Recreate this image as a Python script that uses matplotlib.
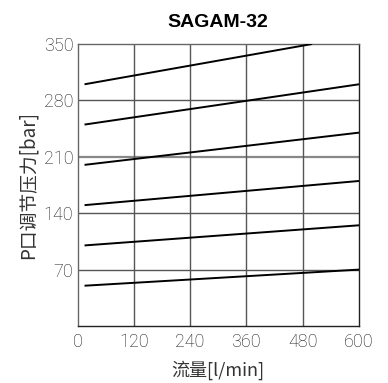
import matplotlib
matplotlib.use("Agg")
import matplotlib.pyplot as plt

# Data
x_start = 15
series_start = [300, 250, 200, 150, 100, 50]
series_end_x = [500, 600, 600, 600, 600, 600]
series_end_y = [350, 300, 240, 180, 125, 70]
x_ticks = [0, 120, 240, 360, 480, 600]
y_ticks = [70, 140, 210, 280, 350]

fig = plt.figure(figsize=(3.88, 3.83), dpi=100)
ax = fig.add_axes([77.5/388, 1-326/383, (359-77.5)/388, (326-44)/383])

grid_c = "#555555"
for yt in y_ticks[:-1]:
    ax.axhline(yt, color=("#888888" if yt == 210 else grid_c), lw=(1.6 if yt == 210 else 1.0), zorder=1)
for xt in x_ticks[1:-1]:
    ax.axvline(xt, color=grid_c, lw=1.0, zorder=1)

for y0, x1, y1 in zip(series_start, series_end_x, series_end_y):
    ax.plot([x_start, x1], [y0, y1], color="black", lw=1.4, zorder=3, solid_capstyle="butt")

ax.set_xlim(0, 600)
ax.set_ylim(0, 350)
ax.set_xticks(x_ticks)
ax.set_yticks(y_ticks)
ax.tick_params(length=0, labelsize=13, labelcolor="#1a1a1a")
ax.tick_params(axis="x", pad=5)
ax.tick_params(axis="y", pad=3)
for lab in ax.get_xticklabels() + ax.get_yticklabels():
    lab.set_family(["Roboto", "DejaVu Sans"])
    lab.set_fontweight("light")
for side in ["left", "top"]:
    ax.spines[side].set_color("#666666")
for side in ["right", "bottom"]:
    ax.spines[side].set_color("#222222")
for s in ax.spines.values():
    s.set_linewidth(1.0)

ax.set_title("SAGAM-32", fontsize=14, fontweight="bold", family=["Liberation Sans", "DejaVu Sans"], pad=12)
ax.set_xlabel("流量[l/min]", fontsize=13, color="#333333", family=["Noto Sans CJK SC", "DejaVu Sans"], labelpad=7)
ax.set_ylabel("P口调节压力[bar]", fontsize=13.5, color="#333333", family=["Noto Sans CJK SC", "DejaVu Sans"], labelpad=4)

fig.savefig("out.png", dpi=100)
